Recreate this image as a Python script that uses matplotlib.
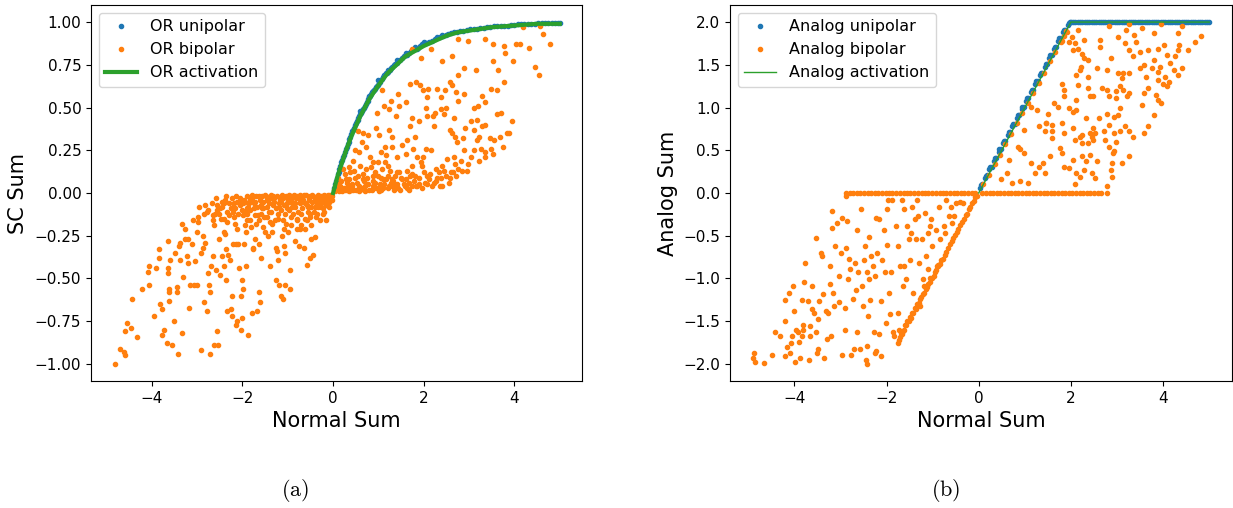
import matplotlib
matplotlib.use('Agg')  # headless
import matplotlib.pyplot as plt

plt.rcParams['mathtext.fontset'] = 'cm'

# ---------------------------------------------------------------- DATA
# (a) OR based stochastic sum vs normal sum

or_act_x = [0, 0.1, 0.2, 0.3, 0.4, 0.5, 0.6, 0.7, 0.8, 0.9, 1.0, 1.2, 1.4, 1.6,
            1.8, 2.0, 2.25, 2.5, 2.75, 3.0, 3.5, 4.0, 4.5, 5.0]
or_act_y = [0, 0.10, 0.18, 0.26, 0.33, 0.39, 0.45, 0.50, 0.55, 0.59, 0.63, 0.70,
            0.75, 0.80, 0.83, 0.86, 0.89, 0.92, 0.94, 0.95, 0.97, 0.98, 0.99, 0.99]

or_unipolar = [
    (0.02, 0.03), (0.06, 0.07), (0.10, 0.11), (0.14, 0.14), (0.18, 0.18), (0.22, 0.21),
    (0.26, 0.24), (0.30, 0.27), (0.34, 0.30), (0.38, 0.33), (0.42, 0.36), (0.46, 0.38),
    (0.50, 0.41), (0.54, 0.43), (0.58, 0.45), (0.62, 0.47), (0.66, 0.49), (0.70, 0.51),
    (0.74, 0.53), (0.78, 0.55), (0.82, 0.57), (0.86, 0.59), (0.90, 0.60), (0.94, 0.62),
    (0.98, 0.63), (1.04, 0.65), (1.10, 0.68), (1.16, 0.70), (1.22, 0.71), (1.28, 0.73),
    (1.34, 0.75), (1.40, 0.76), (1.48, 0.78), (1.56, 0.80), (1.64, 0.81), (1.72, 0.83),
    (1.80, 0.84), (1.88, 0.85), (1.96, 0.87), (2.06, 0.88), (2.18, 0.89), (2.30, 0.91),
    (2.42, 0.92), (2.54, 0.93), (2.66, 0.94), (2.80, 0.945), (2.95, 0.955), (3.10, 0.96),
    (3.25, 0.965), (3.40, 0.97), (3.55, 0.975), (3.70, 0.98), (3.85, 0.98), (4.00, 0.985),
    (4.15, 0.99), (4.30, 0.99), (4.45, 0.99), (4.60, 0.995), (4.75, 0.995), (4.90, 0.995),
    (5.00, 0.995), (0.60, 0.48), (0.80, 0.57), (1.00, 0.66), (1.20, 0.72), (1.40, 0.78),
    (1.60, 0.82), (1.80, 0.855), (2.00, 0.885), (2.40, 0.925),
    (0.04, 0.05), (0.08, 0.09), (0.12, 0.125), (0.16, 0.16), (0.20, 0.195), (0.24, 0.225),
    (0.28, 0.255), (0.32, 0.285), (0.36, 0.315), (0.40, 0.345), (0.44, 0.37), (0.48, 0.395),
    (0.52, 0.42), (0.56, 0.44), (0.60, 0.46), (0.64, 0.48), (0.68, 0.50), (0.72, 0.52),
    (0.76, 0.54), (0.80, 0.56), (0.84, 0.58), (0.88, 0.595), (0.92, 0.61), (0.96, 0.625),
    (1.01, 0.645), (1.07, 0.665), (1.13, 0.69), (1.19, 0.705), (1.25, 0.72), (1.31, 0.74),
    (1.37, 0.755), (1.44, 0.77), (1.52, 0.79), (1.60, 0.805), (1.68, 0.82), (1.76, 0.835),
    (1.84, 0.845), (1.92, 0.86), (2.01, 0.875), (2.12, 0.885), (2.24, 0.90), (2.36, 0.915),
    (2.48, 0.925), (2.60, 0.935), (2.73, 0.94), (2.87, 0.95), (3.02, 0.958), (3.17, 0.962),
    (3.32, 0.968), (3.47, 0.972), (3.62, 0.978), (3.77, 0.98), (3.92, 0.982), (4.07, 0.988),
    (4.22, 0.99), (4.37, 0.99), (4.52, 0.992), (4.67, 0.995), (4.82, 0.995), (4.95, 0.995),
]

or_bipolar_neg = [
    (-4.80, -1.00), (-4.71, -0.91), (-4.60, -0.95), (-4.61, -0.93), (-4.54, -0.76),
    (-4.60, -0.81), (-4.45, -0.79), (-4.33, -0.84), (-4.43, -0.62), (-4.22, -0.56),
    (-4.07, -0.54), (-4.09, -0.46), (-4.06, -0.43), (-3.94, -0.72), (-3.91, -0.44),
    (-3.83, -0.33), (-3.84, -0.38), (-3.81, -0.65), (-3.77, -0.68), (-3.78, -0.83),
    (-3.72, -0.80), (-3.67, -0.88), (-3.64, -0.47), (-3.64, -0.44), (-3.62, -0.56),
    (-3.61, -0.58), (-3.61, -0.63), (-3.65, -0.28), (-3.59, -0.39), (-3.55, -0.89),
    (-3.52, -0.75), (-3.48, -0.35), (-3.42, -0.94), (-3.45, -0.55), (-3.45, -0.58),
    (-3.39, -0.31), (-3.37, -0.29), (-3.37, -0.39), (-3.33, -0.82), (-3.30, -0.49),
    (-3.33, -0.18), (-3.27, -0.21), (-3.26, -0.27), (-3.23, -0.37), (-3.20, -0.27),
    (-3.19, -0.41), (-3.17, -0.67), (-3.16, -0.54), (-3.11, -0.30), (-3.10, -0.16),
    (-3.07, -0.54), (-3.05, -0.40), (-3.01, -0.54), (-3.00, -0.23), (-2.98, -0.17),
    (-2.98, -0.14), (-2.92, -0.92), (-2.91, -0.35), (-2.88, -0.25), (-2.87, -0.32),
    (-2.84, -0.64), (-2.82, -0.29), (-2.79, -0.11), (-2.78, -0.69), (-2.75, -0.47),
    (-2.73, -0.54), (-2.72, -0.58), (-2.71, -0.94), (-2.69, -0.43), (-2.66, -0.13),
    (-2.65, -0.37), (-2.63, -0.89), (-2.62, -0.19), (-2.60, -0.12), (-2.59, -0.45),
    (-2.55, -0.10), (-2.55, -0.81), (-2.53, -0.89), (-2.52, -0.27), (-2.49, -0.48),
    (-2.47, -0.15), (-2.44, -0.37), (-2.41, -0.43), (-2.40, -0.06), (-2.40, -0.23),
    (-2.39, -0.24), (-2.37, -0.51), (-2.36, -0.33), (-2.33, -0.69), (-2.33, -0.17),
    (-2.31, -0.36), (-2.27, -0.39), (-2.25, -0.68), (-2.24, -0.60), (-2.23, -0.72),
    (-2.21, -0.08), (-2.20, -0.30), (-2.18, -0.06), (-2.17, -0.18), (-2.15, -0.77),
    (-2.14, -0.30), (-2.12, -0.21), (-2.11, -0.75), (-2.09, -0.30), (-2.08, -0.05),
    (-2.07, -0.44), (-2.04, -0.60), (-2.04, -0.80), (-2.02, -0.73), (-2.01, -0.51),
    (-1.99, -0.06), (-1.98, -0.56), (-1.96, -0.30), (-1.95, -0.11), (-1.93, -0.23),
    (-1.92, -0.43), (-1.91, -0.09), (-1.89, -0.12), (-1.88, -0.83), (-1.85, -0.06),
    (-1.83, -0.16), (-1.80, -0.20), (-1.79, -0.70), (-1.77, -0.32), (-1.76, -0.33),
    (-1.75, -0.06), (-1.73, -0.27), (-1.72, -0.05), (-1.67, -0.69), (-1.66, -0.13),
    (-1.64, -0.16), (-1.63, -0.30), (-1.63, -0.58), (-1.61, -0.64), (-1.60, -0.38),
    (-1.57, -0.09), (-1.56, -0.02), (-1.53, -0.14), (-1.50, -0.23), (-1.45, -0.04),
    (-1.43, -0.25), (-1.41, -0.11), (-1.40, -0.43), (-1.38, -0.03), (-1.35, -0.23),
    (-1.34, -0.18), (-1.31, -0.05), (-1.28, -0.16), (-1.27, -0.51), (-1.25, -0.32),
    (-1.24, -0.34), (-1.22, -0.12), (-1.21, -0.39), (-1.19, -0.54), (-1.19, -0.08),
    (-1.16, -0.60), (-1.15, -0.05), (-1.13, -0.25), (-1.11, -0.62), (-1.09, -0.21),
    (-1.08, -0.31), (-1.06, -0.54), (-1.05, -0.35), (-1.03, -0.18), (-1.02, -0.09),
    (-1.00, -0.04), (-0.99, -0.23), (-0.96, -0.56), (-0.95, -0.45), (-0.93, -0.14),
    (-0.92, -0.19), (-0.90, -0.08), (-0.87, -0.06), (-0.84, -0.02), (-0.83, -0.28),
    (-0.80, -0.21), (-0.79, -0.16), (-0.76, -0.31), (-0.74, -0.06), (-0.73, -0.21),
    (-0.71, -0.19), (-0.70, -0.12), (-0.67, -0.04), (-0.65, -0.32), (-0.63, -0.21),
    (-0.61, -0.15), (-0.58, -0.42), (-0.57, -0.16), (-0.55, -0.08), (-0.54, -0.04),
    (-0.52, -0.38), (-0.51, -0.12), (-0.49, -0.27), (-0.48, -0.19), (-0.44, -0.36),
    (-0.41, -0.08), (-0.39, -0.26), (-0.38, -0.14), (-0.35, -0.12), (-0.32, -0.04),
    (-0.29, -0.16), (-0.26, -0.08), (-0.23, -0.02), (-0.22, -0.12), (-0.17, -0.06),
    (-0.15, -0.16), (-0.12, -0.04), (-0.09, -0.08), (-0.06, -0.04), (-0.03, -0.02),
]

or_bipolar_band = [
    (-2.95, -0.08), (-2.82, -0.07), (-2.68, -0.06), (-2.57, -0.07), (-2.46, -0.05),
    (-2.38, -0.04), (-2.29, -0.06), (-2.22, -0.03), (-2.13, -0.05), (-2.06, -0.03),
    (-1.97, -0.04), (-1.90, -0.02), (-1.84, -0.04), (-1.78, -0.03), (-1.70, -0.02),
    (-1.62, -0.04), (-1.55, -0.05), (-1.48, -0.02), (-1.42, -0.03), (-1.36, -0.01),
    (-1.30, -0.03), (-1.23, -0.02), (-1.17, -0.03), (-1.12, -0.01), (-1.04, -0.02),
    (-0.97, -0.01), (-0.91, -0.03), (-0.86, -0.01), (-0.80, -0.02), (-0.73, -0.01),
    (-0.66, -0.02), (-0.60, -0.01), (-0.52, -0.02), (-0.46, -0.01), (-0.40, -0.03),
    (-0.33, -0.01), (-0.27, -0.02), (-0.20, -0.01), (-0.13, -0.02), (-0.07, -0.01),
    (-2.75, -0.10), (-2.50, -0.09), (-2.34, -0.11), (-2.16, -0.09), (-2.02, -0.10),
    (-1.87, -0.08), (-1.74, -0.09), (-1.58, -0.07), (-1.46, -0.08), (-1.33, -0.07),
    (-1.20, -0.06), (-1.08, -0.07), (-0.94, -0.05), (-0.83, -0.06), (-0.70, -0.05),
    (-0.58, -0.07), (-0.47, -0.05), (-0.36, -0.06), (-0.24, -0.04), (-0.10, -0.05),
    (-2.58, -0.03), (-2.52, -0.12), (-2.44, -0.08), (-2.36, -0.02), (-2.30, -0.13),
    (-2.26, -0.09), (-2.19, -0.14), (-2.14, -0.02), (-2.10, -0.12), (-2.05, -0.07),
    (-1.99, -0.13), (-1.94, -0.05), (-1.89, -0.16), (-1.83, -0.10), (-1.78, -0.01),
    (-1.73, -0.13), (-1.68, -0.08), (-1.64, -0.02), (-1.59, -0.12), (-1.54, -0.09),
    (-1.50, -0.01), (-1.46, -0.14), (-1.41, -0.06), (-1.37, -0.11), (-1.32, -0.02),
    (-1.27, -0.09), (-1.22, -0.15), (-1.18, -0.04), (-1.14, -0.10), (-1.10, -0.03),
    (-1.06, -0.12), (-1.01, -0.06), (-0.97, -0.10), (-0.93, -0.02), (-0.89, -0.12),
    (-0.84, -0.08), (-0.81, -0.03), (-0.77, -0.11), (-0.72, -0.04), (-0.68, -0.09),
    (-0.64, -0.01), (-0.61, -0.06), (-0.56, -0.11), (-0.53, -0.03), (-0.49, -0.08),
    (-0.45, -0.02), (-0.42, -0.11), (-0.38, -0.05), (-0.34, -0.08), (-0.30, -0.02),
    (-0.27, -0.06), (-0.23, -0.09), (-0.19, -0.03), (-0.16, -0.07), (-0.12, -0.01),
    (-0.09, -0.05), (-0.05, -0.02), (-0.02, -0.04), (-2.85, -0.12), (-2.65, -0.16),
    (-2.40, -0.15), (-2.20, -0.11), (-1.70, -0.18), (-1.40, -0.17), (-1.10, -0.16),
    (-0.80, -0.15), (-0.50, -0.14), (-0.20, -0.11), (-1.95, -0.19), (-1.55, -0.20),
    (0.05, 0.01), (0.12, 0.03), (0.20, 0.01), (0.27, 0.02), (0.35, 0.01), (0.42, 0.05),
    (0.50, 0.02), (0.57, 0.01), (0.64, 0.03), (0.71, 0.01), (0.78, 0.05), (0.85, 0.02),
    (0.92, 0.06), (0.99, 0.03), (1.06, 0.02), (1.13, 0.05), (1.20, 0.03), (1.27, 0.06),
    (1.34, 0.04), (1.42, 0.05), (1.48, 0.02), (1.56, 0.05), (1.67, 0.02), (1.78, 0.07),
    (1.86, 0.04), (2.02, 0.06), (2.12, 0.08), (2.26, 0.07), (2.38, 0.09), (2.50, 0.10),
    (0.30, 0.06), (0.48, 0.09), (0.68, 0.07), (0.88, 0.10), (1.05, 0.09), (1.22, 0.10),
    (1.45, 0.12), (1.70, 0.10), (0.15, 0.04), (0.40, 0.02),
    (0.03, 0.02), (0.08, 0.05), (0.13, 0.01), (0.18, 0.07), (0.23, 0.03), (0.26, 0.11),
    (0.31, 0.02), (0.36, 0.08), (0.41, 0.04), (0.45, 0.13), (0.52, 0.06), (0.55, 0.10),
    (0.60, 0.02), (0.66, 0.11), (0.70, 0.04), (0.75, 0.09), (0.80, 0.02), (0.83, 0.15),
    (0.89, 0.07), (0.95, 0.03), (0.98, 0.10), (1.03, 0.05), (1.08, 0.14), (1.11, 0.03),
    (1.17, 0.08), (1.24, 0.04), (1.26, 0.13), (1.32, 0.07), (1.37, 0.10), (1.44, 0.03),
    (1.50, 0.09), (1.58, 0.04), (1.62, 0.13), (1.68, 0.06), (1.73, 0.11), (1.82, 0.04),
    (1.90, 0.09), (1.97, 0.03), (2.00, 0.12), (2.07, 0.05), (2.14, 0.11), (2.22, 0.06),
    (2.30, 0.09), (2.35, 0.04), (2.45, 0.13), (2.57, 0.09), (2.65, 0.12), (2.72, 0.10),
    (2.85, 0.13), (0.10, 0.09), (0.35, 0.15), (0.60, 0.16), (1.15, 0.18), (1.75, 0.16),
]

or_bipolar_pos = [
    (1.73, 0.84), (1.93, 0.79), (2.17, 0.84), (2.40, 0.77), (2.63, 0.80), (2.75, 0.90),
    (2.97, 0.89), (2.75, 0.69), (2.62, 0.63), (2.89, 0.73), (3.16, 0.72), (3.36, 0.90),
    (3.53, 0.87), (3.53, 0.77), (3.64, 0.72), (3.78, 0.86), (3.80, 0.82), (3.97, 0.77),
    (4.04, 0.87), (4.12, 0.87), (4.19, 0.97), (4.31, 0.85), (4.45, 0.74), (4.54, 0.69),
    (4.57, 0.98), (4.79, 0.87), (4.63, 0.93), (3.78, 0.65), (3.61, 0.60), (3.48, 0.61),
    (3.29, 0.57), (3.36, 0.53), (3.19, 0.51), (3.11, 0.50), (3.17, 0.43), (2.89, 0.58),
    (2.72, 0.59), (2.75, 0.54), (2.57, 0.65), (2.47, 0.60), (2.39, 0.56), (2.30, 0.61),
    (2.24, 0.47), (2.09, 0.61), (2.07, 0.56), (1.99, 0.60), (1.91, 0.63), (1.83, 0.65),
    (1.69, 0.64), (1.44, 0.58), (1.28, 0.54), (1.24, 0.49), (1.13, 0.51), (1.08, 0.60),
    (0.96, 0.47), (1.38, 0.45), (1.45, 0.51), (1.61, 0.53), (1.75, 0.44), (1.70, 0.39),
    (1.80, 0.33), (1.76, 0.26), (1.89, 0.42), (2.04, 0.50), (2.08, 0.45), (2.20, 0.45),
    (2.23, 0.39), (2.39, 0.49), (2.44, 0.46), (2.50, 0.50), (2.57, 0.37), (2.62, 0.35),
    (2.66, 0.44), (2.69, 0.33), (2.73, 0.30), (2.87, 0.32), (2.88, 0.25), (2.92, 0.38),
    (3.05, 0.42), (3.11, 0.37), (3.17, 0.31), (3.21, 0.33), (3.26, 0.26), (3.29, 0.39),
    (3.35, 0.24), (3.46, 0.32), (3.52, 0.23), (3.56, 0.31), (3.68, 0.33), (3.75, 0.27),
    (3.83, 0.35), (3.87, 0.35), (3.94, 0.42), (3.35, 0.40), (3.61, 0.46), (3.71, 0.47),
    (3.11, 0.25), (3.05, 0.21), (2.95, 0.13), (2.76, 0.14), (2.69, 0.17), (2.60, 0.12),
    (2.52, 0.20), (2.41, 0.16), (2.28, 0.14), (2.17, 0.25), (2.05, 0.26), (1.99, 0.21),
    (1.95, 0.16), (1.86, 0.21), (1.80, 0.10), (1.75, 0.04), (1.63, 0.03), (1.53, 0.08),
    (1.40, 0.12), (1.35, 0.02), (1.29, 0.08), (1.21, 0.16), (1.16, 0.22), (1.06, 0.24),
    (1.00, 0.18), (0.93, 0.12), (0.87, 0.18), (0.81, 0.21), (0.77, 0.34), (0.73, 0.27),
    (0.67, 0.35), (0.63, 0.30), (0.58, 0.24), (0.55, 0.36), (0.49, 0.25), (0.44, 0.19),
    (0.38, 0.12), (0.33, 0.04), (0.28, 0.08), (0.22, 0.14), (0.16, 0.02), (1.02, 0.34),
    (0.95, 0.38), (1.24, 0.37), (1.31, 0.33), (1.53, 0.28), (1.60, 0.23), (1.41, 0.21),
    (1.31, 0.27), (1.15, 0.27), (1.64, 0.31), (1.93, 0.18), (2.08, 0.10), (2.33, 0.12),
    (2.55, 0.06), (2.66, 0.21), (2.82, 0.19), (2.98, 0.17), (3.21, 0.19), (3.49, 0.26),
    (3.35, 0.21), (2.18, 0.04), (2.40, 0.04), (1.89, 0.05), (1.60, 0.08), (1.09, 0.08),
    (0.87, 0.04), (0.58, 0.04), (0.44, 0.02), (1.31, 0.04), (1.02, 0.01), (0.65, 0.08),
    (0.73, 0.14),
]

# (b) analog sum vs normal sum

an_act_x = [0, 2, 5]
an_act_y = [0, 2, 2]

an_unipolar = [
    (0.03, 0.06), (0.08, 0.10), (0.13, 0.17), (0.18, 0.21), (0.23, 0.28), (0.28, 0.31),
    (0.33, 0.38), (0.38, 0.41), (0.43, 0.48), (0.48, 0.51), (0.53, 0.58), (0.58, 0.61),
    (0.63, 0.68), (0.68, 0.71), (0.73, 0.78), (0.78, 0.81), (0.83, 0.88), (0.88, 0.91),
    (0.93, 0.98), (0.98, 1.01), (1.03, 1.08), (1.08, 1.11), (1.13, 1.18), (1.18, 1.21),
    (1.23, 1.28), (1.28, 1.31), (1.33, 1.38), (1.38, 1.41), (1.43, 1.48), (1.48, 1.51),
    (1.53, 1.58), (1.58, 1.61), (1.63, 1.68), (1.68, 1.71), (1.73, 1.78), (1.78, 1.81),
    (1.83, 1.88), (1.88, 1.91), (1.93, 1.97), (1.98, 2.00),
    (0.05, 0.09), (0.15, 0.20), (0.25, 0.31), (0.35, 0.41), (0.45, 0.51), (0.55, 0.61),
    (0.65, 0.71), (0.75, 0.81), (0.85, 0.91), (0.95, 1.01), (1.05, 1.11), (1.15, 1.21),
    (1.25, 1.31), (1.35, 1.41), (1.45, 1.51), (1.55, 1.61), (1.65, 1.71), (1.75, 1.81),
    (1.85, 1.91), (1.95, 1.99),
]

an_unipolar_flat_x = [
    2.00, 2.05, 2.10, 2.15, 2.20, 2.25, 2.30, 2.35, 2.40, 2.45, 2.50, 2.55, 2.60, 2.65,
    2.70, 2.75, 2.80, 2.85, 2.90, 2.95, 3.00, 3.05, 3.10, 3.15, 3.20, 3.25, 3.30, 3.35,
    3.40, 3.45, 3.50, 3.55, 3.60, 3.65, 3.70, 3.75, 3.80, 3.85, 3.90, 3.95, 4.00, 4.05,
    4.10, 4.15, 4.20, 4.25, 4.30, 4.35, 4.40, 4.45, 4.50, 4.55, 4.60, 4.65, 4.70, 4.75,
    4.80, 4.85, 4.90, 4.95, 5.00,
]

an_bipolar_neg = [
    (-4.90, -1.93), (-4.86, -1.98), (-4.88, -1.87), (-4.65, -1.99), (-4.49, -1.89),
    (-4.42, -1.63), (-4.31, -1.67), (-4.21, -1.91), (-4.21, -1.50), (-4.20, -1.25),
    (-4.15, -1.80), (-4.10, -1.87), (-4.07, -1.75), (-4.05, -1.67), (-4.11, -1.17),
    (-4.03, -1.09), (-4.00, -1.38), (-3.98, -1.98), (-3.97, -1.60), (-3.93, -1.63),
    (-3.90, -1.74), (-3.87, -1.93), (-3.84, -1.67), (-3.82, -1.60), (-3.82, -1.54),
    (-3.84, -1.25), (-3.80, -1.04), (-3.76, -0.82), (-3.71, -1.26), (-3.69, -1.95),
    (-3.66, -1.56), (-3.66, -1.67), (-3.62, -1.36), (-3.61, -1.09), (-3.58, -1.40),
    (-3.54, -1.63), (-3.53, -0.53), (-3.51, -1.87), (-3.48, -1.83), (-3.48, -1.48),
    (-3.46, -1.26), (-3.43, -0.70), (-3.41, -0.74), (-3.38, -1.18), (-3.35, -1.93),
    (-3.31, -1.38), (-3.30, -1.71), (-3.27, -1.40), (-3.23, -1.06), (-3.22, -0.86),
    (-3.20, -1.67), (-3.18, -0.41), (-3.18, -0.21), (-3.15, -1.17), (-3.13, -1.32),
    (-3.12, -0.62), (-3.07, -0.35), (-3.04, -0.97), (-3.02, -1.28), (-2.99, -0.70),
    (-2.97, -0.29), (-2.96, -1.89), (-2.91, -1.60), (-2.89, -1.34), (-2.87, -0.04),
    (-2.87, -0.64), (-2.86, -0.33), (-2.84, -1.01), (-2.82, -0.77), (-2.79, -0.89),
    (-2.76, -1.90), (-2.73, -1.24), (-2.71, -1.83), (-2.68, -0.82), (-2.66, -1.13),
    (-2.64, -1.63), (-2.63, -0.43), (-2.61, -0.93), (-2.58, -1.83), (-2.56, -0.19),
    (-2.53, -1.09), (-2.50, -1.32), (-2.48, -0.78), (-2.47, -0.62), (-2.45, -1.95),
    (-2.43, -2.00), (-2.43, -1.79), (-2.42, -0.93), (-2.40, -1.44), (-2.38, -0.51),
    (-2.37, -1.01), (-2.35, -1.25), (-2.33, -0.74), (-2.29, -0.86), (-2.27, -1.63),
    (-2.25, -0.97), (-2.24, -1.87), (-2.22, -1.85), (-2.22, -0.29), (-2.20, -0.70),
    (-2.17, -0.31), (-2.16, -1.65), (-2.12, -1.91), (-2.12, -1.26), (-2.09, -0.78),
    (-2.06, -0.43), (-2.04, -0.93), (-2.02, -1.52), (-1.99, -0.61), (-1.98, -0.19),
    (-1.96, -0.08), (-1.94, -1.17), (-1.93, -1.42), (-1.91, -0.93), (-1.88, -0.08),
    (-1.86, -1.63), (-1.83, -1.67), (-1.80, -0.39), (-1.76, -1.40), (-1.75, -0.62),
    (-1.73, -1.60), (-1.70, -0.86), (-1.67, -0.08), (-1.65, -1.09), (-1.63, -0.19),
    (-1.62, -0.86), (-1.58, -1.01), (-1.55, -0.39), (-1.52, -0.54), (-1.50, -0.78),
    (-1.47, -0.47), (-1.44, -0.16), (-1.42, -1.17), (-1.39, -0.31), (-1.36, -0.54),
    (-1.34, -0.08), (-1.31, -0.27), (-1.29, -0.82), (-1.27, -1.32), (-1.24, -0.54),
    (-1.21, -1.01), (-1.19, -1.09), (-1.16, -0.23), (-1.14, -0.74), (-1.11, -0.89),
    (-1.09, -0.47), (-1.06, -0.39), (-1.03, -0.31), (-1.01, -0.62), (-1.05, -0.99),
    (-0.93, -0.43), (-0.90, -0.86), (-0.87, -0.16), (-0.85, -0.54), (-0.88, -0.84),
    (-0.75, -0.39), (-0.73, -0.47), (-0.72, -0.08), (-0.65, -0.27), (-0.60, -0.16),
    (-0.57, -0.35), (-0.54, -0.27), (-0.49, -0.12), (-0.41, -0.10), (-0.33, -0.12),
]

an_bipolar_diag = [
    (-1.75, -1.76), (-1.70, -1.68), (-1.66, -1.65), (-1.62, -1.60), (-1.57, -1.55),
    (-1.52, -1.50), (-1.47, -1.46), (-1.42, -1.40), (-1.37, -1.36), (-1.30, -1.29),
    (-1.25, -1.22), (-1.18, -1.17), (-1.12, -1.10), (-1.05, -1.04), (-0.98, -0.97),
    (-0.92, -0.90), (-0.85, -0.83), (-0.78, -0.77), (-0.70, -0.69), (-0.62, -0.60),
    (-0.55, -0.53), (-0.47, -0.46), (-0.40, -0.38), (-0.32, -0.31), (-0.25, -0.24),
    (-0.18, -0.16), (-0.10, -0.09), (-0.04, -0.03),
    (-1.73, -1.72), (-1.68, -1.64), (-1.64, -1.61), (-1.59, -1.55), (-1.55, -1.50),
    (-1.49, -1.45), (-1.45, -1.40), (-1.39, -1.35), (-1.33, -1.30), (-1.28, -1.24),
    (-1.21, -1.18), (-1.15, -1.12), (-1.09, -1.06), (-1.02, -0.99), (-0.95, -0.92),
    (-0.88, -0.86), (-0.81, -0.78), (-0.74, -0.72), (-0.66, -0.64), (-0.58, -0.56),
    (-0.51, -0.49), (-0.44, -0.42), (-0.36, -0.34), (-0.28, -0.26), (-0.21, -0.19),
    (-0.14, -0.12), (-0.07, -0.05),
    (0.10, 0.10), (0.22, 0.21), (0.35, 0.34), (0.46, 0.45), (0.58, 0.57), (0.70, 0.69),
    (0.83, 0.82), (0.95, 0.94), (1.06, 1.05), (1.18, 1.17), (1.30, 1.29), (1.42, 1.41),
    (1.55, 1.54), (1.66, 1.65), (1.78, 1.77), (1.90, 1.89),
]

an_bipolar_zero_x = [
    -2.88, -2.80, -2.72, -2.65, -2.57, -2.49, -2.41, -2.33, -2.26, -2.18, -2.10, -2.02,
    -1.95, -1.87, -1.79, -1.71, -1.63, -1.56, -1.48, -1.40, -1.32, -1.24, -1.17, -1.09,
    -1.01, -0.93, -0.85, -0.78, -0.70, -0.62, -0.54, -0.46, -0.39, -0.31, -0.23, -0.15,
    -0.07, 0.08, 0.16, 0.24, 0.31, 0.39, 0.47, 0.55, 0.63, 0.70, 0.78, 0.86, 0.94, 1.02,
    1.09, 1.17, 1.25, 1.33, 1.41, 1.48, 1.56, 1.64, 1.72, 1.80, 1.87, 1.95, 2.03, 2.11,
    2.19, 2.26, 2.34, 2.42, 2.50, 2.58, 2.66, 2.78,
]

an_bipolar_pos = [
    (2.82, 1.96), (3.27, 1.98), (3.55, 1.93), (3.80, 1.87), (3.96, 1.98), (4.41, 1.96),
    (4.33, 1.87), (4.69, 1.77), (4.82, 1.84), (4.53, 1.67), (1.80, 1.78), (1.86, 1.84),
    (2.08, 1.75), (2.04, 1.67), (2.29, 1.79), (2.16, 1.69), (2.29, 1.58), (2.37, 1.56),
    (2.22, 1.48), (2.63, 1.79), (2.63, 1.71), (2.86, 1.58), (3.02, 1.83), (3.18, 1.75),
    (3.36, 1.85), (3.41, 1.77), (3.27, 1.67), (3.35, 1.60), (3.51, 1.65), (3.59, 1.50),
    (3.80, 1.56), (3.90, 1.68), (4.02, 1.73), (4.08, 1.61), (4.16, 1.52), (4.26, 1.60),
    (4.33, 1.67), (4.34, 1.73), (3.76, 1.46), (3.93, 1.48), (4.04, 1.36), (4.24, 1.44),
    (4.33, 1.38), (4.41, 1.46), (3.51, 1.46), (3.63, 1.36), (3.67, 1.23), (3.88, 1.42),
    (3.90, 1.32), (4.00, 1.28), (4.08, 1.25), (4.12, 1.30), (3.85, 1.15), (3.90, 1.09),
    (3.80, 0.91), (3.55, 1.03), (3.58, 1.17), (3.27, 1.40), (3.14, 1.40), (3.02, 1.40),
    (3.10, 1.34), (3.06, 1.25), (2.98, 1.19), (3.14, 1.21), (3.27, 1.17), (3.22, 1.13),
    (2.98, 1.11), (2.82, 1.13), (2.78, 1.44), (2.78, 1.21), (2.68, 1.23), (2.57, 1.46),
    (2.37, 1.36), (2.20, 1.44), (2.12, 1.38), (2.16, 1.26), (2.37, 1.23), (2.41, 1.13),
    (2.49, 1.13), (2.12, 1.09), (1.84, 1.13), (1.80, 1.28), (1.84, 1.21), (1.63, 1.05),
    (1.71, 1.01), (1.51, 0.93), (1.47, 0.82), (1.59, 0.72), (1.59, 0.80), (1.80, 0.82),
    (1.84, 0.70), (2.04, 0.76), (2.19, 0.66), (2.24, 0.68), (2.41, 0.70), (2.45, 0.66),
    (2.53, 0.70), (2.71, 0.72), (2.82, 0.80), (2.94, 0.89), (3.02, 0.91), (3.06, 0.99),
    (2.78, 0.93), (2.60, 0.88), (2.49, 0.76), (2.33, 0.88), (2.12, 0.97), (2.04, 0.95),
    (1.96, 0.99), (1.14, 1.01), (1.27, 0.97), (1.31, 0.78), (1.43, 0.72), (1.45, 0.82),
    (0.98, 0.74), (0.86, 0.54), (0.65, 0.39), (0.90, 0.51), (0.98, 0.47), (1.14, 0.35),
    (1.31, 0.31), (1.55, 0.43), (1.43, 0.23), (1.59, 0.64), (1.76, 0.53), (1.80, 0.47),
    (1.84, 0.31), (2.04, 0.39), (2.12, 0.23), (2.24, 0.43), (2.33, 0.37), (2.41, 0.45),
    (2.57, 0.37), (2.82, 0.54), (2.90, 0.35), (2.92, 0.47), (2.94, 0.49), (3.10, 0.35),
    (3.27, 0.43), (3.35, 0.66), (3.27, 0.72), (3.18, 0.78), (3.06, 0.72), (2.94, 0.70),
    (2.98, 0.60), (2.73, 0.62), (2.20, 0.19), (2.29, 0.27), (2.45, 0.23), (2.53, 0.18),
    (2.86, 0.27), (2.90, 0.19), (2.78, 0.08), (2.08, 0.10), (1.96, 0.29), (0.49, 0.16),
    (0.61, 0.23), (0.73, 0.12), (0.90, 0.14), (1.06, 0.12), (1.22, 0.23), (1.39, 0.35),
    (2.24, 0.58), (2.08, 0.62), (2.37, 0.58), (2.49, 0.62), (2.02, 1.83), (1.96, 1.77),
    (2.16, 1.91), (2.24, 1.63), (3.67, 0.78), (3.59, 0.70), (3.96, 1.05), (3.67, 1.67),
    (3.20, 1.91), (1.92, 1.88),
]

captions = ['(a)', '(b)']


def split(points):
    return [p[0] for p in points], [p[1] for p in points]


# ---------------------------------------------------------------- PLOTTING
fig = plt.figure(figsize=(12.33, 5.08), dpi=100)
ax1 = fig.add_axes([91 / 1233, 127 / 508, 491 / 1233, 376 / 508])
ax2 = fig.add_axes([730 / 1233, 127 / 508, 502 / 1233, 376 / 508])

# (a)
x, y = split(or_unipolar)
ax1.plot(x, y, '.', color='C0', label='OR unipolar')
x, y = split(or_bipolar_neg + or_bipolar_band + or_bipolar_pos)
ax1.plot(x, y, '.', color='C1', label='OR bipolar')
ax1.plot(or_act_x, or_act_y, color='C2', linewidth=3, label='OR activation')
ax1.set_xlim(-5.34, 5.49)
ax1.set_ylim(-1.1, 1.1)
ax1.set_xlabel('Normal Sum', fontsize=15)
ax1.set_ylabel('SC Sum', fontsize=15)
ax1.yaxis.set_label_coords(-0.128, 0.5)
ax1.legend(loc='upper left', fontsize=11.5)

# (b)
x, y = split(an_unipolar)
x = x + an_unipolar_flat_x
y = y + [2.0] * len(an_unipolar_flat_x)
ax2.plot(x, y, '.', color='C0', label='Analog unipolar')
x, y = split(an_bipolar_neg + an_bipolar_diag + an_bipolar_pos)
x = x + an_bipolar_zero_x
y = y + [0.0] * len(an_bipolar_zero_x)
ax2.plot(x, y, '.', color='C1', label='Analog bipolar')
ax2.plot(an_act_x, an_act_y, color='C2', linewidth=1, label='Analog activation')
ax2.set_xlim(-5.395, 5.495)
ax2.set_ylim(-2.2, 2.2)
ax2.set_xlabel('Normal Sum', fontsize=15)
ax2.set_ylabel('Analog Sum', fontsize=15)
ax2.yaxis.set_label_coords(-0.104, 0.5)
ax2.legend(loc='upper left', fontsize=11.5)

for ax in (ax1, ax2):
    ax.tick_params(labelsize=11)

fig.text(295 / 1233, 1 - 490 / 508, r'$\mathrm{' + captions[0] + '}$',
         fontsize=16, ha='center', va='center')
fig.text(946 / 1233, 1 - 490 / 508, r'$\mathrm{' + captions[1] + '}$',
         fontsize=16, ha='center', va='center')

plt.savefig('out.png', dpi=100)
plt.close()
